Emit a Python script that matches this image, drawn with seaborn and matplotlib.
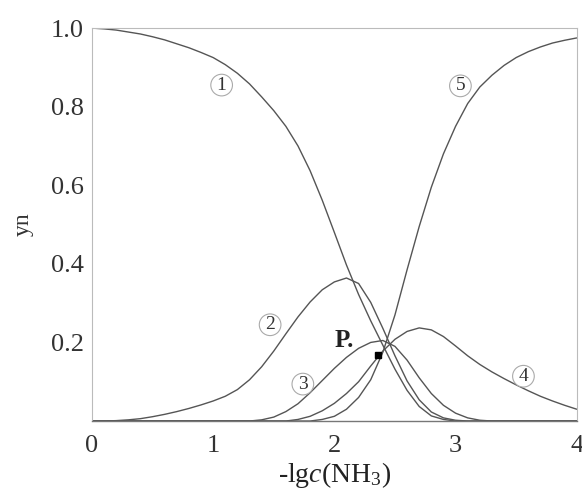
import numpy as np
import pandas as pd
import seaborn as sns
import matplotlib.pyplot as plt

# -lg c(NH3) grid, 0 .. 4 step 0.1
x_vals = [round(0.1 * i, 1) for i in range(41)]

y1 = [1.000, 0.998, 0.995, 0.990, 0.985, 0.978, 0.970, 0.960, 0.950, 0.938,
      0.925, 0.907, 0.885, 0.858, 0.825, 0.790, 0.750, 0.700, 0.637, 0.562,
      0.480, 0.397, 0.322, 0.255, 0.193, 0.132, 0.078, 0.037, 0.013, 0.004,
      0.0, 0.0, 0.0, 0.0, 0.0, 0.0, 0.0, 0.0, 0.0, 0.0, 0.0]
y2 = [0.0, 0.0, 0.001, 0.003, 0.006, 0.011, 0.017, 0.024, 0.032, 0.041,
      0.051, 0.063, 0.080, 0.105, 0.138, 0.178, 0.222, 0.265, 0.303, 0.334,
      0.354, 0.364, 0.350, 0.302, 0.236, 0.166, 0.102, 0.054, 0.023, 0.008,
      0.002, 0.0, 0.0, 0.0, 0.0, 0.0, 0.0, 0.0, 0.0, 0.0, 0.0]
y3 = [0.0, 0.0, 0.0, 0.0, 0.0, 0.0, 0.0, 0.0, 0.0, 0.0,
      0.0, 0.0, 0.0, 0.0, 0.003, 0.010, 0.024, 0.044, 0.072, 0.103,
      0.134, 0.162, 0.185, 0.200, 0.205, 0.190, 0.155, 0.110, 0.070, 0.040,
      0.020, 0.008, 0.002, 0.0, 0.0, 0.0, 0.0, 0.0, 0.0, 0.0, 0.0]
y4 = [0.0, 0.0, 0.0, 0.0, 0.0, 0.0, 0.0, 0.0, 0.0, 0.0,
      0.0, 0.0, 0.0, 0.0, 0.0, 0.0, 0.0, 0.004, 0.012, 0.026,
      0.045, 0.070, 0.100, 0.140, 0.178, 0.208, 0.228, 0.237, 0.232, 0.215,
      0.191, 0.166, 0.144, 0.125, 0.108, 0.092, 0.077, 0.063, 0.051, 0.040,
      0.030]
y5 = [0.0, 0.0, 0.0, 0.0, 0.0, 0.0, 0.0, 0.0, 0.0, 0.0,
      0.0, 0.0, 0.0, 0.0, 0.0, 0.0, 0.0, 0.0, 0.0, 0.004,
      0.012, 0.030, 0.060, 0.105, 0.175, 0.270, 0.385, 0.495, 0.595, 0.680,
      0.750, 0.808, 0.850, 0.880, 0.905, 0.925, 0.940, 0.952, 0.962, 0.969,
      0.975]

labels = ["1", "2", "3", "4", "5"]
label_pos = [(1.07, 0.855), (1.47, 0.245), (1.74, 0.094), (3.56, 0.114), (3.04, 0.853)]
p_label = (2.08, 0.205)
p_dot = (2.36, 0.167)

df = pd.DataFrame({"x": x_vals * 5,
                   "y": y1 + y2 + y3 + y4 + y5,
                   "curve": sum([[lab] * 41 for lab in labels], [])})

sns.set_style("white")
plt.rcParams["font.family"] = ["Liberation Serif", "DejaVu Serif"]
plt.rcParams["mathtext.fontset"] = "custom"
plt.rcParams["mathtext.rm"] = "Liberation Serif"
plt.rcParams["mathtext.it"] = "Liberation Serif:italic"

fig = plt.figure(figsize=(5.82, 4.93), dpi=100)
ax = fig.add_axes([0.158, 0.146, 0.833, 0.797])

sns.lineplot(data=df, x="x", y="y", hue="curve", palette=["#555555"] * 5,
             linewidth=1.0, legend=False, ax=ax)

for lab, (lx, ly) in zip(labels, label_pos):
    ax.text(lx, ly, lab, fontsize=14, ha="center", va="center", color="#333333",
            bbox=dict(boxstyle="circle,pad=0.12", fc="white", ec="#aaaaaa", lw=0.8))

ax.text(p_label[0], p_label[1], "P.", fontsize=18, fontweight="bold",
        ha="center", va="center", color="#222222")
ax.plot([p_dot[0]], [p_dot[1]], marker="s", color="black", markersize=4)

ax.set_xlim(0, 4)
ax.set_ylim(0, 1.0)
ax.set_xticks([0, 1, 2, 3, 4])
ax.set_xticklabels(["0", "1", "2", "3", "4"])
ax.set_yticks([0.2, 0.4, 0.6, 0.8, 1.0])
ax.set_yticklabels(["0.2", "0.4", "0.6", "0.8", "1.0"])
ax.tick_params(direction="in", length=4, width=0.8, labelsize=19, colors="#333333",
               pad=6)
ax.tick_params(axis="x", colors="#999999", labelcolor="#333333", pad=10)

for side in ["top", "left", "right"]:
    ax.spines[side].set_color("#bbbbbb")
    ax.spines[side].set_linewidth(0.8)
ax.spines["bottom"].set_color("#777777")
ax.spines["bottom"].set_linewidth(1.0)

ax.set_xlabel(r"-lg$\it{c}$(NH$_3$)", fontsize=20, labelpad=2, color="#222222")
ax.set_ylabel("yn", fontsize=17, labelpad=12, color="#333333")

fig.savefig("out.png", dpi=100)
